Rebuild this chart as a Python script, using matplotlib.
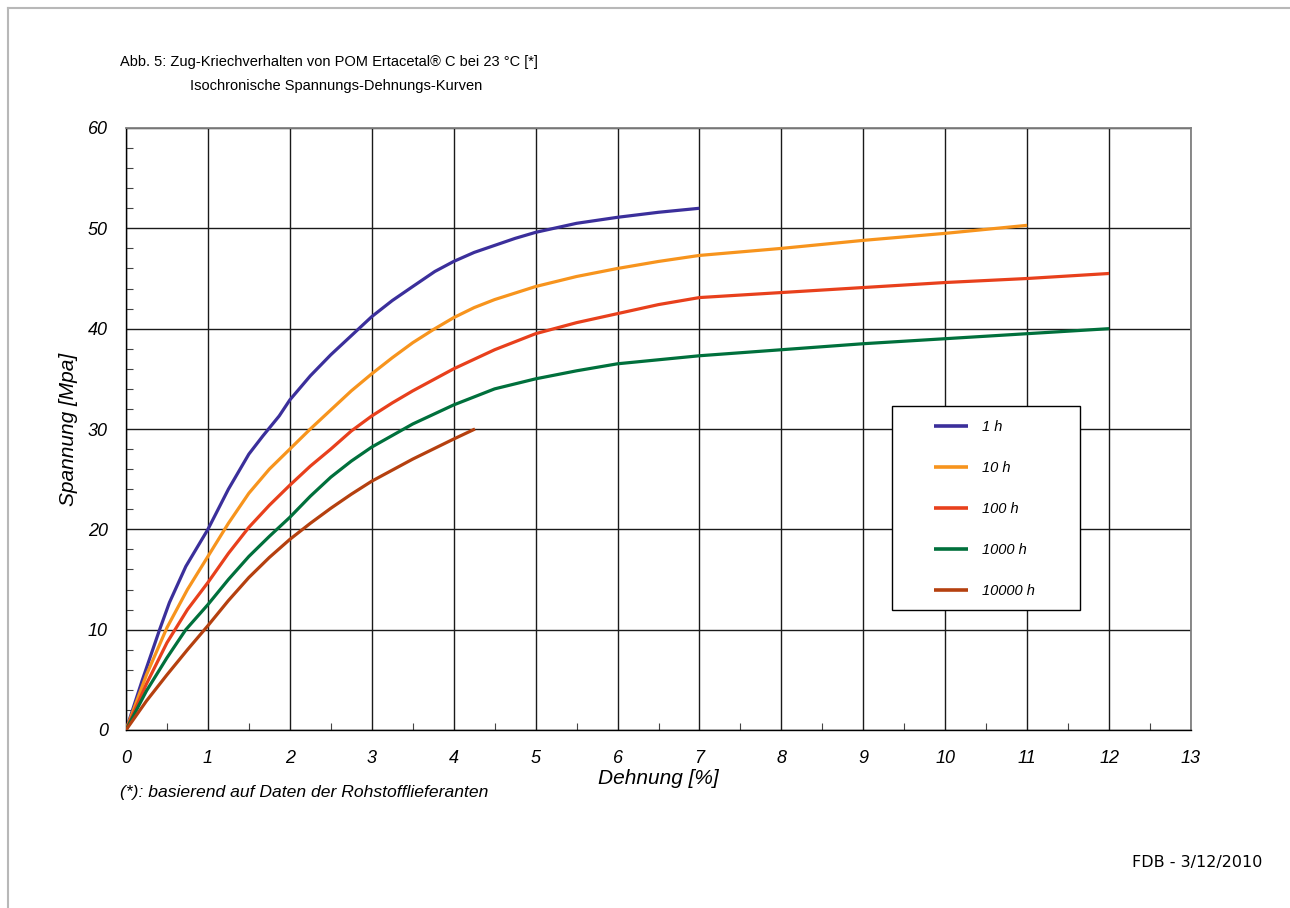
import matplotlib
matplotlib.use('Agg')
import matplotlib.pyplot as plt
from matplotlib.lines import Line2D
from matplotlib.patches import Rectangle
from matplotlib.ticker import MultipleLocator

plt.rcParams['font.family'] = ['Liberation Sans', 'DejaVu Sans']

# Kurven (Dehnung in %, Spannung in MPa)
x_1h = [0, 0.2, 0.41, 0.53, 0.73, 1, 1.25, 1.5, 1.67, 1.87, 2, 2.25, 2.5, 2.75, 3, 3.25, 3.5,
        3.77, 4, 4.25, 4.5, 4.75, 5, 5.5, 6, 6.5, 7]
y_1h = [0, 5.0, 10, 12.7, 16.3, 20, 24.0, 27.5, 29.3, 31.3, 32.9, 35.3, 37.4, 39.3, 41.2, 42.8, 44.2,
        45.7, 46.7, 47.6, 48.3, 49.0, 49.6, 50.5, 51.1, 51.6, 52.0]

x_10h = [0, 0.25, 0.5, 0.75, 1, 1.25, 1.5, 1.75, 2, 2.25, 2.5, 2.75, 3, 3.25, 3.5, 3.75, 4,
         4.25, 4.5, 5, 5.5, 6, 6.5, 7, 8, 9, 10, 11]
y_10h = [0, 5.5, 10.2, 14.0, 17.3, 20.6, 23.6, 26.0, 28.0, 30.0, 31.9, 33.8, 35.5, 37.1, 38.6, 39.9, 41.1,
         42.1, 42.9, 44.2, 45.2, 46.0, 46.7, 47.3, 48.0, 48.8, 49.5, 50.3]

x_100h = [0, 0.25, 0.5, 0.75, 1, 1.25, 1.5, 1.75, 2, 2.25, 2.5, 2.75, 3, 3.25, 3.5, 3.75, 4,
          4.5, 5, 5.5, 6, 6.5, 7, 8, 9, 10, 11, 12]
y_100h = [0, 4.6, 8.7, 12.0, 14.7, 17.6, 20.2, 22.4, 24.4, 26.3, 28.0, 29.8, 31.3, 32.6, 33.8, 34.9, 36.0,
          37.9, 39.5, 40.6, 41.5, 42.4, 43.1, 43.6, 44.1, 44.6, 45.0, 45.5]

x_1000h = [0, 0.25, 0.5, 0.73, 1, 1.25, 1.5, 1.75, 2, 2.25, 2.5, 2.75, 3, 3.5, 4, 4.5, 5,
           5.5, 6, 6.5, 7, 8, 9, 10, 11, 12]
y_1000h = [0, 3.9, 7.2, 10, 12.5, 15.0, 17.3, 19.3, 21.2, 23.3, 25.2, 26.8, 28.2, 30.5, 32.4, 34.0, 35.0,
           35.8, 36.5, 36.9, 37.3, 37.9, 38.5, 39.0, 39.5, 40.0]

x_10000h = [0, 0.25, 0.5, 0.75, 1, 1.25, 1.5, 1.75, 2, 2.25, 2.5, 2.75, 3, 3.5, 4, 4.26]
y_10000h = [0, 2.9, 5.5, 8.0, 10.4, 12.9, 15.2, 17.2, 19.0, 20.6, 22.1, 23.5, 24.8, 27.0, 29.0, 30.0]

labels = ['1 h', '10 h', '100 h', '1000 h', '10000 h']
colors = ['#3b2f9b', '#f7941d', '#e8401c', '#00703c', '#b5400f']
xs = [x_1h, x_10h, x_100h, x_1000h, x_10000h]
ys = [y_1h, y_10h, y_100h, y_1000h, y_10000h]

fig = plt.figure(figsize=(12.9, 9.08), dpi=100)
ax = fig.add_axes([126/1290, 1-730/908, (1191-126)/1290, (730-128)/908])

for x, y, c, l in zip(xs, ys, colors, labels):
    ax.plot(x, y, color=c, lw=2.3, label=l, solid_capstyle='butt', solid_joinstyle='round', zorder=3)

ax.set_xlim(0, 13)
ax.set_ylim(0, 60)
ax.xaxis.set_major_locator(MultipleLocator(1))
ax.xaxis.set_minor_locator(MultipleLocator(0.5))
ax.yaxis.set_major_locator(MultipleLocator(10))
ax.yaxis.set_minor_locator(MultipleLocator(2))
ax.grid(True, which='major', color='#1a1a1a', lw=1.0)
ax.set_axisbelow(True)
ax.tick_params(which='major', direction='in', length=0, labelsize=13)
ax.tick_params(axis='y', which='major', pad=13)
ax.tick_params(axis='x', which='major', pad=14.5)
ax.tick_params(which='minor', direction='in', length=5, width=0.8, color='#444444')
for t in ax.get_xticklabels() + ax.get_yticklabels():
    t.set_fontstyle('italic')
for s in ['top', 'right']:
    ax.spines[s].set_color('#808080')
    ax.spines[s].set_linewidth(1.3)
for s in ['left', 'bottom']:
    ax.spines[s].set_color('black')
    ax.spines[s].set_linewidth(1.0)

ax.set_xlabel('Dehnung [%]', fontsize=15, fontstyle='italic', labelpad=1)
ax.set_ylabel('Spannung [Mpa]', fontsize=15, fontstyle='italic', labelpad=7)

# Legende: Rahmen separat, Eintraege ohne eigenen Rahmen
ax.add_patch(Rectangle((0.7193, 0.1993), 0.8958-0.7193, 0.5382-0.1993, transform=ax.transAxes,
                       facecolor='white', edgecolor='black', lw=1.0, zorder=4))
leg = ax.legend(loc='upper left', bbox_to_anchor=(0.7587, 0.515), frameon=False,
                prop={'style': 'italic', 'size': 10.5}, labelspacing=1.86,
                handlelength=2.33, handletextpad=0.96, borderpad=0, borderaxespad=0)
for h in leg.get_lines():
    h.set_linewidth(2.6)
leg.set_zorder(5)

# Titel und Fussnoten
fig.text(120/1290, 1-62/908, 'Abb. 5: Zug-Kriechverhalten von POM Ertacetal\u00ae C bei 23 \u00b0C [*]',
         fontsize=10.5, va='center', ha='left')
fig.text(190/1290, 1-86/908, 'Isochronische Spannungs-Dehnungs-Kurven',
         fontsize=10.5, va='center', ha='left')
fig.text(120/1290, 1-792/908, '(*): basierend auf Daten der Rohstofflieferanten',
         fontsize=12.6, fontstyle='italic', va='center', ha='left')
fig.text(1262/1290, 1-862/908, 'FDB - 3/12/2010', family='DejaVu Sans',
         fontsize=11.5, va='center', ha='right')

# Seitenrahmen oben und links
fig.add_artist(Line2D([8/1290, 1], [1-8/908, 1-8/908], color='#b8b8b8', lw=1.5))
fig.add_artist(Line2D([8/1290, 8/1290], [0, 1-8/908], color='#b8b8b8', lw=1.5))

fig.savefig('out.png', dpi=100)
